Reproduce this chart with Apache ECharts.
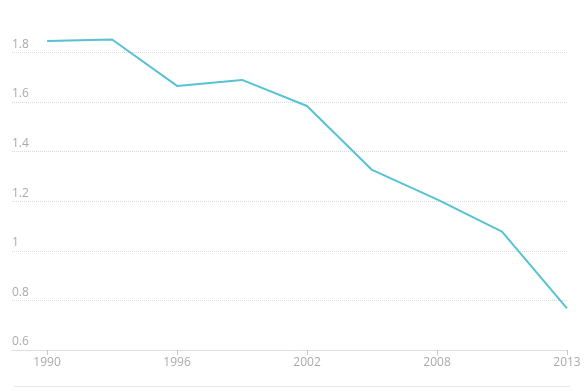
<!DOCTYPE html>
<html><head><meta charset="utf-8">
<script src="https://cdn.jsdelivr.net/npm/echarts@6/dist/echarts.min.js"></script>
<style>html,body{margin:0;padding:0;background:#fff}#c{width:584px;height:391px}</style>
</head><body><div id="c"></div>
<script>
var years = ['1990','1993','1996','1999','2002','2005','2008','2010','2013'];
var values = [1.846, 1.852, 1.665, 1.689, 1.584, 1.326, 1.207, 1.077, 0.768];
var labelIdx = [0, 2, 4, 6, 8];

var chart = echarts.init(document.getElementById('c'));
var data = values.map(function(v, i){ return [i, v]; });
chart.setOption({
  animation: false,
  grid: { left: 12, right: 17, top: 27.6, bottom: 41, containLabel: false },
  xAxis: {
    type: 'value', min: -0.54, max: 8,
    axisLine: { show: true, lineStyle: { color: '#dedede', width: 1 } },
    axisTick: { show: true, customValues: labelIdx, length: 5, lineStyle: { color: '#c8c8c8' } },
    axisLabel: { customValues: labelIdx, margin: 7, color: '#aaaaaa', fontSize: 12, fontFamily: 'Open Sans',
      formatter: function(v){ return years[Math.round(v)]; } },
    splitLine: { show: false }
  },
  yAxis: {
    type: 'value', min: 0.6, max: 1.9, interval: 0.2,
    axisLine: { show: false }, axisTick: { show: false },
    axisLabel: { inside: true, showMaxLabel: false, verticalAlign: 'bottom', align: 'left', margin: 0,
      padding: [0,0,2,0], color: '#aaaaaa', fontSize: 12, fontFamily: 'Open Sans',
      formatter: function(v){ return String(+v.toFixed(1)); } },
    splitLine: { show: true, showMaxLine: false, showMinLine: false, lineStyle: { color: '#dadada', type: [1, 1], width: 1 } }
  },
  graphic: [{ type: 'line', left: 12, bottom: 2, shape: { x1: 0, y1: 0, x2: 555, y2: 0 },
    style: { stroke: '#cfcfcf', lineWidth: 1, lineDash: [1, 1] } }],
  series: [{
    type: 'line', data: data, symbol: 'none',
    lineStyle: { color: '#57c2d3', width: 2 }
  }]
});
</script></body></html>
